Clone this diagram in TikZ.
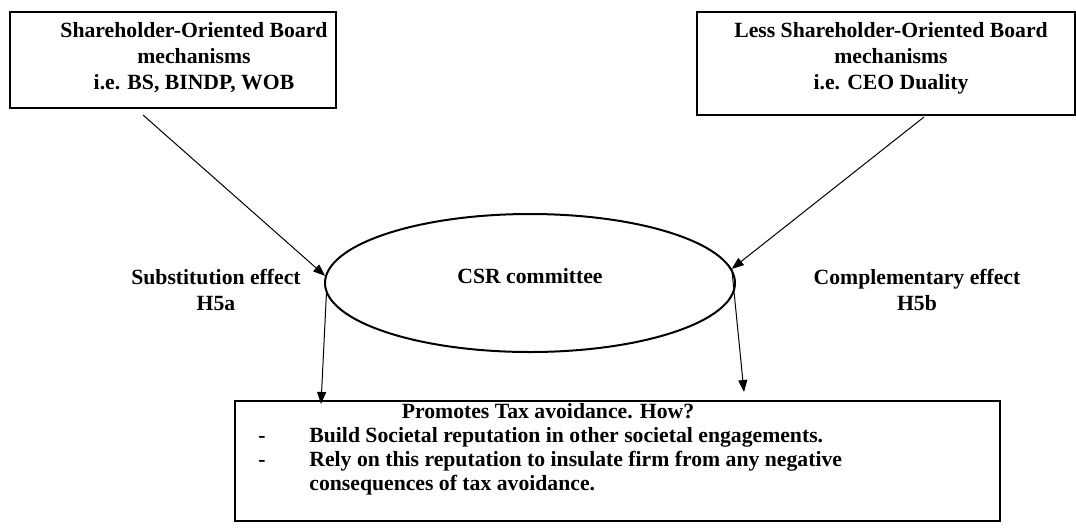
\documentclass[tikz,border=0pt]{standalone}
\usepackage{fontspec}
\setmainfont{Liberation Serif}
\usetikzlibrary{arrows.meta,shapes.geometric}
\begin{document}
\begin{tikzpicture}[x=0.5pt,y=-0.5pt,
  box/.style={draw,line width=1pt,inner sep=0pt,rectangle},
  txt/.style={font=\fontsize{10.85}{13}\selectfont\bfseries,align=center,inner sep=0pt},
  arr/.style={line width=0.5pt,-{Triangle[length=6pt,width=4.5pt]}},
]
\useasboundingbox (0,0) rectangle (1076,527);
% top boxes
\node[box,minimum width=163pt,minimum height=48pt] (lbox) at (173,60) {};
\node[txt] (ltxt) at (194,58) {Shareholder-Oriented Board\\mechanisms\\i.e. BS, BINDP, WOB};
\node[box,minimum width=189pt,minimum height=51.5pt] (rbox) at (886,63.5) {};
\node[txt] (rtxt) at (891,58) {Less Shareholder-Oriented Board\\mechanisms\\i.e. CEO Duality};
% ellipse
\node[ellipse,draw,line width=1pt,minimum width=205pt,minimum height=69pt,inner sep=0pt] (ell) at (530,283) {};
\node[txt] (csr) at (530,276) {CSR committee};
% bottom box
\node[box,minimum width=382.5pt,minimum height=60pt] (bbox) at (617.5,461) {};
\node[txt,anchor=base] (t0) at (548,418) {Promotes Tax avoidance. How?};
\node[txt,anchor=base west] (d1) at (258,442) {-};
\node[txt,anchor=base west] (b1) at (309,442) {Build Societal reputation in other societal engagements.};
\node[txt,anchor=base west] (d2) at (258,466) {-};
\node[txt,anchor=base west] (b2) at (309,466) {Rely on this reputation to insulate firm from any negative};
\node[txt,anchor=base west] (b3) at (309,490) {consequences of tax avoidance.};
% labels
\node[txt] (sub) at (216,290) {Substitution effect\\H5a};
\node[txt] (comp) at (917,290) {Complementary effect\\H5b};
% arrows
\coordinate (s1) at (143,115);
\coordinate (s2) at (924,117);
\coordinate (e4) at (744,392);
\draw[arr] (s1) -- (ell.178);
\draw[arr] (s2) -- (ell.4);
\draw[arr] (ell.183) -- (321,404);
\draw[arr] (ell.4) -- (e4);
\end{tikzpicture}
\end{document}
